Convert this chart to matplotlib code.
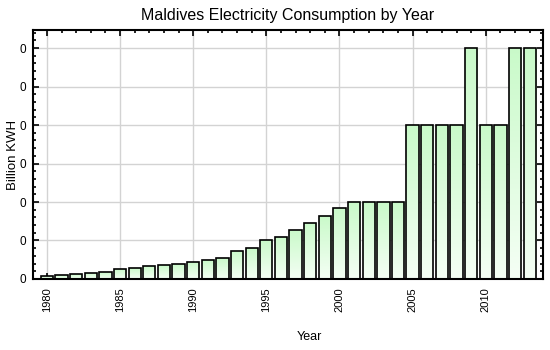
import numpy as np
import matplotlib
matplotlib.use("Agg")
import matplotlib.pyplot as plt
from matplotlib.ticker import MultipleLocator, FuncFormatter

plt.rcParams['font.family'] = ['Liberation Sans', 'DejaVu Sans']

# Maldives electricity consumption, billion kWh
years = list(range(1980, 2014))
consumption = [0.0035, 0.0048, 0.006, 0.0078, 0.009, 0.0126, 0.014, 0.0166,
               0.018, 0.019, 0.022, 0.024, 0.027, 0.036, 0.040, 0.050,
               0.055, 0.0635, 0.073, 0.082, 0.092, 0.1, 0.1, 0.1, 0.1,
               0.2, 0.2, 0.2, 0.2, 0.3, 0.2, 0.2, 0.3, 0.3]

fig = plt.figure(figsize=(5.5, 3.5), dpi=100)
ax = fig.add_axes([0.06, 0.203, 0.927, 0.711])

bars = ax.bar(years, consumption, width=0.84, color='none',
              edgecolor='black', linewidth=1.2, zorder=3)

# vertical gradient fill inside each bar (light green top -> near white bottom)
grad = np.linspace(0, 1, 64).reshape(-1, 1)
top_c = np.array([0.79, 0.98, 0.79])
bot_c = np.array([0.96, 1.0, 0.96])
img = bot_c + (top_c - bot_c) * grad
img = img.reshape(64, 1, 3)
for b in bars:
    x0, y0 = b.get_x(), b.get_y()
    w, h = b.get_width(), b.get_height()
    im = ax.imshow(img, extent=[x0, x0 + w, y0, y0 + h], origin='lower',
                   aspect='auto', zorder=2, interpolation='bilinear')
    im.set_clip_path(b)

ax.set_xlim(1979.05, 2013.9)
ax.set_ylim(0, 0.3234)

ax.xaxis.set_major_locator(MultipleLocator(5))
ax.xaxis.set_minor_locator(MultipleLocator(1))
ax.yaxis.set_major_locator(MultipleLocator(0.05))
ax.yaxis.set_minor_locator(MultipleLocator(0.01))
ax.yaxis.set_major_formatter(FuncFormatter(lambda v, p: '%d' % v))

ax.tick_params(which='both', direction='in', top=True, right=True, width=1.2)
ax.tick_params(which='major', length=4.5)
ax.tick_params(which='minor', length=2.5)
ax.tick_params(axis='x', labelsize=8, labelrotation=90, pad=6)
ax.tick_params(axis='y', labelsize=8.5, pad=5)

for s in ax.spines.values():
    s.set_linewidth(1.5)

ax.grid(True, which='major', color='#d3d3d3', linewidth=1, zorder=0)
ax.set_axisbelow(True)

ax.set_title('Maldives Electricity Consumption by Year', fontsize=11.5, pad=7)
ax.set_xlabel('Year', fontsize=9, va='top')
ax.set_ylabel('Billion KWH', fontsize=9.5)
ax.xaxis.set_label_coords(0.543, -0.209)
ax.yaxis.set_label_coords(-0.028, 0.5)

fig.savefig('out.png', dpi=100)
